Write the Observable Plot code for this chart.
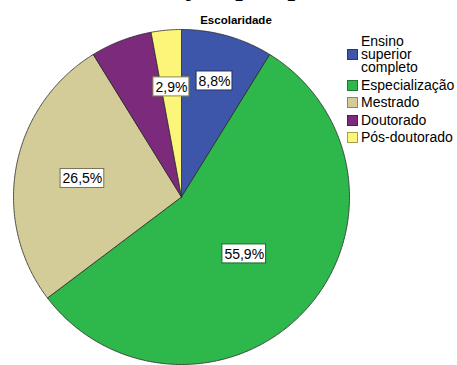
<!DOCTYPE html>
<html>
<head>
<meta charset="utf-8">
<script src="https://cdn.jsdelivr.net/npm/d3@7"></script>
<script src="https://cdn.jsdelivr.net/npm/@observablehq/plot@0.6"></script>
<style>
  body { margin: 0; background: #fff; }
  #chart { position: relative; width: 457px; height: 365px; overflow: hidden; font-family: "Liberation Sans", Arial, sans-serif; }
  #chart svg { position: absolute; left: 0; top: 0; }
  .doc-line { position: absolute; left: 181px; top: -33px; font-family: "Liberation Serif", serif; font-size: 33px; line-height: 1; white-space: nowrap; color: #000; }
  .title { position: absolute; left: 0; width: 472px; top: 14px; text-align: center; font-weight: bold; font-size: 11.5px; line-height: 13px; color: #000; }
  .legend { position: absolute; left: 347px; top: 35px; display: flex; flex-direction: column; gap: 4.5px; }
  .legend .item { display: flex; align-items: center; }
  .legend .sw { width: 11px; height: 11px; box-sizing: border-box; border: 1px solid #333; margin-right: 3px; flex: none; }
  .legend .lab { font-size: 14px; line-height: 13px; white-space: nowrap; color: #000; }
  .legend .lab.wrap { width: 62px; white-space: normal; }
</style>
</head>
<body>
<div id="chart">
  <div class="doc-line">ção por p</div>
  <div class="title">Escolaridade</div>
</div>
<script>
// Escolaridade dos participantes (%)
const categories = ["Ensino superior completo", "Especialização", "Mestrado", "Doutorado", "Pós-doutorado"];
const percentages = [8.8, 55.9, 26.5, 5.9, 2.9];
const showLabel = [true, true, true, false, true];

// Styling
const colors = ["#3e56a9", "#2eb84b", "#d3cc98", "#7b2a7c", "#fbf67a"];
const labelRadius = [0.72, 0.505, 0.6, 0.6, 0.66];

const W = 457, H = 365;
const mL = 13, mR = 108, mT = 29, mB = 1;
const pxPerX = (W - mL - mR) / 2;
const pxPerY = (H - mT - mB) / 2;

// Slice angles (clockwise from 12 o'clock)
const total = d3.sum(percentages);
let acc = 0;
const slices = categories.map((c, i) => {
  const a0 = acc / total * 2 * Math.PI;
  acc += percentages[i];
  const a1 = acc / total * 2 * Math.PI;
  return {category: c, value: percentages[i], a0, a1, i};
});

// Slice outlines: centre -> arc -> centre
const outline = [];
for (const s of slices) {
  const n = Math.max(2, Math.ceil((s.a1 - s.a0) / (Math.PI / 360)));
  outline.push({category: s.category, x: 0, y: 0});
  for (let k = 0; k <= n; k++) {
    const a = s.a0 + (s.a1 - s.a0) * k / n;
    outline.push({category: s.category, x: Math.sin(a), y: Math.cos(a)});
  }
  outline.push({category: s.category, x: 0, y: 0});
}

// Value labels with boxed background
const ctx = document.createElement("canvas").getContext("2d");
ctx.font = "14px 'Liberation Sans'";
const labels = slices.filter(s => showLabel[s.i]).map(s => {
  const mid = (s.a0 + s.a1) / 2;
  const r = labelRadius[s.i];
  const text = d3.format(".1f")(s.value).replace(".", ",") + "%";
  const w = ctx.measureText(text).width + 4;
  const h = 19;
  const x = r * Math.sin(mid), y = r * Math.cos(mid);
  return {
    category: s.category, text, x, y,
    x1: x - w / 2 / pxPerX, x2: x + w / 2 / pxPerX,
    y1: y - h / 2 / pxPerY, y2: y + h / 2 / pxPerY,
    border: d3.color(colors[s.i]).darker(1.6).formatHex()
  };
});

const plot = Plot.plot({
  width: W, height: H,
  marginLeft: mL, marginRight: mR, marginTop: mT, marginBottom: mB,
  x: {domain: [-1, 1], axis: null},
  y: {domain: [-1, 1], axis: null},
  color: {domain: categories, range: colors},
  style: {background: "transparent", fontFamily: "Liberation Sans, Arial, sans-serif"},
  marks: [
    Plot.line(outline, {x: "x", y: "y", z: "category", fill: "category", stroke: "#2a2a2a", strokeWidth: 0.8, strokeLinejoin: "round"}),
    Plot.rect(labels, {x1: "x1", x2: "x2", y1: "y1", y2: "y2", fill: "white", stroke: d => d.border, strokeWidth: 1}),
    Plot.text(labels, {x: "x", y: "y", text: "text", fill: "black", fontSize: 14, dy: 0.5})
  ]
});
document.getElementById("chart").appendChild(plot);

// Legend
const legend = document.createElement("div");
legend.className = "legend";
categories.forEach((c, i) => {
  const item = document.createElement("div");
  item.className = "item";
  const sw = document.createElement("div");
  sw.className = "sw";
  sw.style.background = colors[i];
  sw.style.borderColor = d3.color(colors[i]).darker(1.2).formatHex();
  const lab = document.createElement("div");
  lab.className = c.includes(" ") ? "lab wrap" : "lab";
  lab.textContent = c;
  item.appendChild(sw);
  item.appendChild(lab);
  legend.appendChild(item);
});
document.getElementById("chart").appendChild(legend);
</script>
</body>
</html>
